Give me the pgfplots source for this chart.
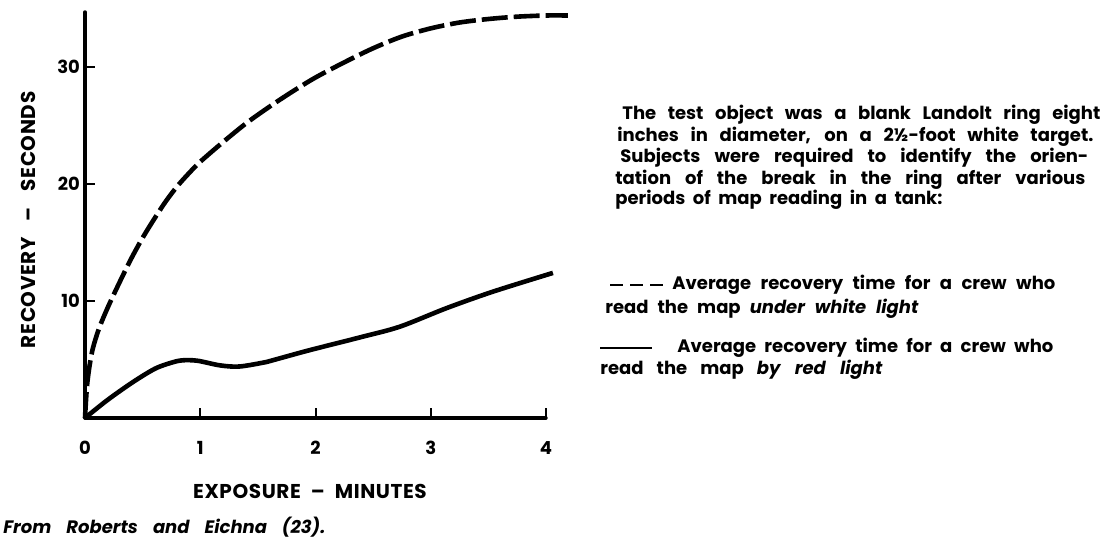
\documentclass[border=0pt]{standalone}
\usepackage{fontspec}
\setmainfont{Poppins}
\usepackage{pgfplots}
\usepackage{pgfplotstable}
\pgfplotsset{compat=1.18}

\pgfplotstableread{
x y
0 0
0.02 3.0
0.06 5.6
0.12 7.6
0.2 9.5
0.3 11.6
0.4 13.6
0.5 15.4
0.6 17.0
0.7 18.5
0.8 19.8
0.9 20.9
1.0 21.9
1.2 23.6
1.4 25.2
1.6 26.6
1.8 27.9
2.0 29.1
2.25 30.4
2.5 31.6
2.75 32.6
3.0 33.3
3.25 33.8
3.5 34.1
3.75 34.3
4.0 34.4
4.19 34.4
}\whitedata

\pgfplotstableread{
x y
0 0
0.19 1.5
0.39 2.9
0.55 3.9
0.65 4.4
0.82 4.9
0.97 4.9
1.17 4.5
1.34 4.4
1.58 4.8
1.69 5.1
1.95 5.8
2.39 6.9
2.73 7.8
3.14 9.4
3.54 10.8
4.06 12.4
}\reddata

\newcommand{\annfont}{\fontsize{9}{10.7}\selectfont\bfseries}

\begin{document}
\begin{tikzpicture}[x=1pt,y=1pt]
\useasboundingbox (0,0) rectangle (558.5,270);
\begin{axis}[
  at={(42.5pt,61pt)}, anchor=south west,
  scale only axis, width=230.5pt, height=203pt,
  xmin=0, xmax=4, ymin=0, ymax=34.7,
  axis lines=left,
  axis line style={-, line width=1.7pt, line cap=round},
  xtick={0,1,2,3,4}, ytick={10,20,30},
  tick align=inside, major tick length=5pt,
  tick style={line width=1pt, black},
  clip=false,
  /pgf/number format/assume math mode=true,
  tick label style={font=\fontsize{9}{10}\selectfont\bfseries},
  xticklabel style={yshift=-8pt},
  yticklabel style={xshift=1pt},
  xlabel={EXPOSURE\hspace{0.5em}–\hspace{0.5em}MINUTES},
  ylabel={RECOVERY\hspace{0.8em}–\hspace{0.8em}SECONDS},
  label style={font=\fontsize{10}{12}\selectfont\bfseries\addfontfeature{LetterSpace=3}},
  xlabel style={at={(axis description cs:0.488,-0.182)}, anchor=center},
  ylabel style={at={(axis description cs:-0.1236,0.488)}, anchor=center},
]
\addplot[line width=2.3pt, dash pattern=on 13pt off 3pt, smooth, tension=0.5] table {\whitedata};
\addplot[line width=2.3pt, smooth, tension=0.5] table {\reddata};
\end{axis}

% explanatory text
\node[anchor=base west, inner sep=0pt] at (311,210) {\annfont\makebox[239pt][s]{The test object was a blank Landolt ring eight}};
\node[anchor=base west, inner sep=0pt] at (308.5,199.1) {\annfont\makebox[238pt][s]{inches in diameter, on a 2½-foot white target.}};
\node[anchor=base west, inner sep=0pt] at (310,188.6) {\annfont\makebox[234pt][s]{Subjects were required to identify the orien-}};
\node[anchor=base west, inner sep=0pt] at (307.5,177.6) {\annfont\makebox[235pt][s]{tation of the break in the ring after various}};
\node[anchor=base west, inner sep=0pt] at (307.5,167.6) {\annfont\makebox[163.5pt][s]{periods of map reading in a tank:}};

% legend entries
\draw[line width=1.4pt, dash pattern=on 6.5pt off 3.5pt] (305,127.5) -- (333.5,127.5);
\node[anchor=base west, inner sep=0pt] at (336,125.1) {\annfont\makebox[191.5pt][s]{Average recovery time for a crew who}};
\node[anchor=base west, inner sep=0pt] at (302.5,113.1) {\annfont\makebox[156.5pt][s]{read the map \itshape under white light}};
\draw[line width=1.4pt] (300,96) -- (326,96);
\node[anchor=base west, inner sep=0pt] at (338.5,93.6) {\annfont\makebox[188pt][s]{Average recovery time for a crew who}};
\node[anchor=base west, inner sep=0pt] at (300,82.6) {\annfont\makebox[141pt][s]{read the map \itshape by red light}};

% source
\node[anchor=base west, inner sep=0pt] at (1.5,3.5) {\fontsize{9}{10}\selectfont\bfseries\itshape\makebox[161pt][s]{From Roberts and Eichna (23).}};
\end{tikzpicture}
\end{document}
